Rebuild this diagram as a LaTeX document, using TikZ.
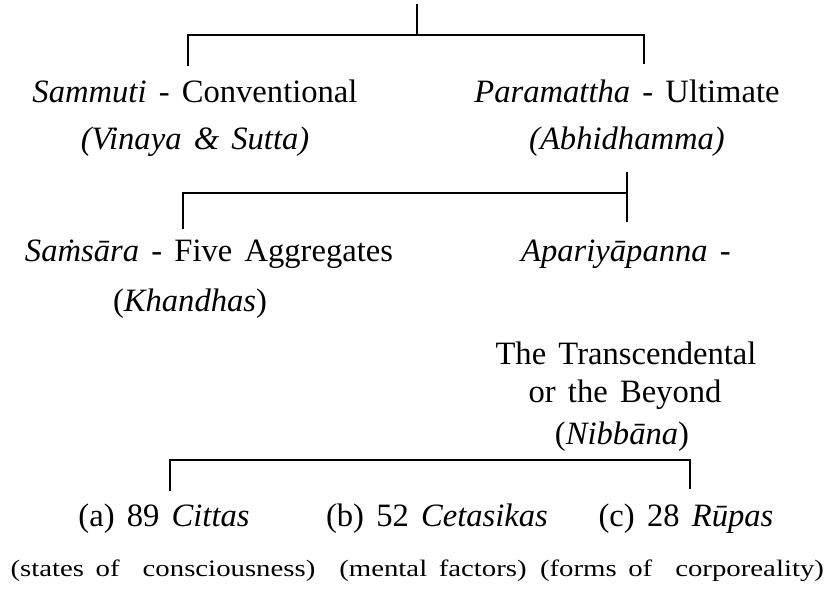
\documentclass[tikz,border=0pt]{standalone}
\usepackage{fontspec}
\setmainfont{Liberation Serif}[
    UprightFont={Liberation Serif},
    ItalicFont={Liberation Serif Italic},
    WordSpace=1.5]
\newfontfamily\widefont{Liberation Serif}[FakeStretch=1.22, WordSpace=1.6]
\usepackage{tikz}
\usetikzlibrary{calc}

\tikzset{
    lbl/.style={anchor=base, inner sep=0pt, font=\fontsize{16.3}{19}\selectfont},
    sublbl/.style={anchor=base, inner sep=0pt, font=\widefont\fontsize{11.8}{14}\selectfont},
    brack/.style={line width=1.1pt, line cap=rect}
}

\begin{document}
\begin{tikzpicture}[x=0.5pt, y=-0.5pt]
        \useasboundingbox (0,0) rectangle (827,593);
        \newcommand{\figtreebaraY}{35}
        \newcommand{\figtreebarbY}{193}
        \newcommand{\figtreebarcY}{460}
        \newcommand{\figtreelineaY}{103}
        \newcommand{\figtreelinebY}{150}
        \newcommand{\figtreelinecY}{262}
        \newcommand{\figtreelinedY}{527}
        \newcommand{\figtreelineeY}{577}
        % first level
        \node[lbl] (sammuti) at (195,\figtreelineaY) {\textit{Sammuti} - Conventional};
        \node[lbl] (paramattha) at (627,\figtreelineaY) {\textit{Paramattha} - Ultimate};
        \node[lbl] (vinaya) at (195,\figtreelinebY) {\textit{(Vinaya \& Sutta)}};
        \node[lbl] (abhidhamma) at (627,\figtreelinebY) {\textit{(Abhidhamma)}};
        % second level
        \node[lbl] (samsara) at (209,\figtreelinecY) {\textit{Saṁsāra} - Five Aggregates};
        \node[lbl] (apariya) at (626,\figtreelinecY) {\textit{Apariyāpanna} -};
        \node[lbl] (khandhas) at (190,312) {(\textit{Khandhas})};
        \node[lbl] (transc) at (626,365) {The Transcendental};
        \node[lbl] (beyond) at (625,403) {or the Beyond};
        \node[lbl] (nibbana) at (622,445) {(\textit{Nibbāna})};
        % third level
        \node[lbl] (cittas) at (164,\figtreelinedY) {(a) 89 \textit{Cittas}};
        \node[lbl] (cetasikas) at (437,\figtreelinedY) {(b) 52 \textit{Cetasikas}};
        \node[lbl] (rupas) at (686,\figtreelinedY) {(c) 28 \textit{Rūpas}};
        \node[sublbl] (states) at (163,\figtreelineeY) {(states of\ \ consciousness)};
        \node[sublbl] (mental) at (433,\figtreelineeY) {(mental factors)};
        \node[sublbl] (forms) at (682,\figtreelineeY) {(forms of\ \ corporeality)};
        % brackets
        \coordinate (topa) at (417,5);
        \coordinate (juna) at (417,\figtreebaraY);
        \coordinate (lefta) at (188,65);
        \coordinate (righta) at (644,63);
        \draw[brack] (topa) -- (juna);
        \draw[brack] (lefta) -- (lefta |- juna) -- (righta |- juna) -- (righta);
        \coordinate (topb) at (627,173);
        \coordinate (junb) at (627,\figtreebarbY);
        \coordinate (leftb) at (183,228);
        \coordinate (rightb) at (627,221);
        \draw[brack] (topb) -- (rightb);
        \draw[brack] (leftb) -- (leftb |- junb) -- (junb);
        \coordinate (leftc) at (170,490);
        \coordinate (rightc) at (690,488);
        \draw[brack] (leftc) -- (leftc |- 0,\figtreebarcY) -- (rightc |- 0,\figtreebarcY) -- (rightc);
    \end{tikzpicture}
\end{document}
